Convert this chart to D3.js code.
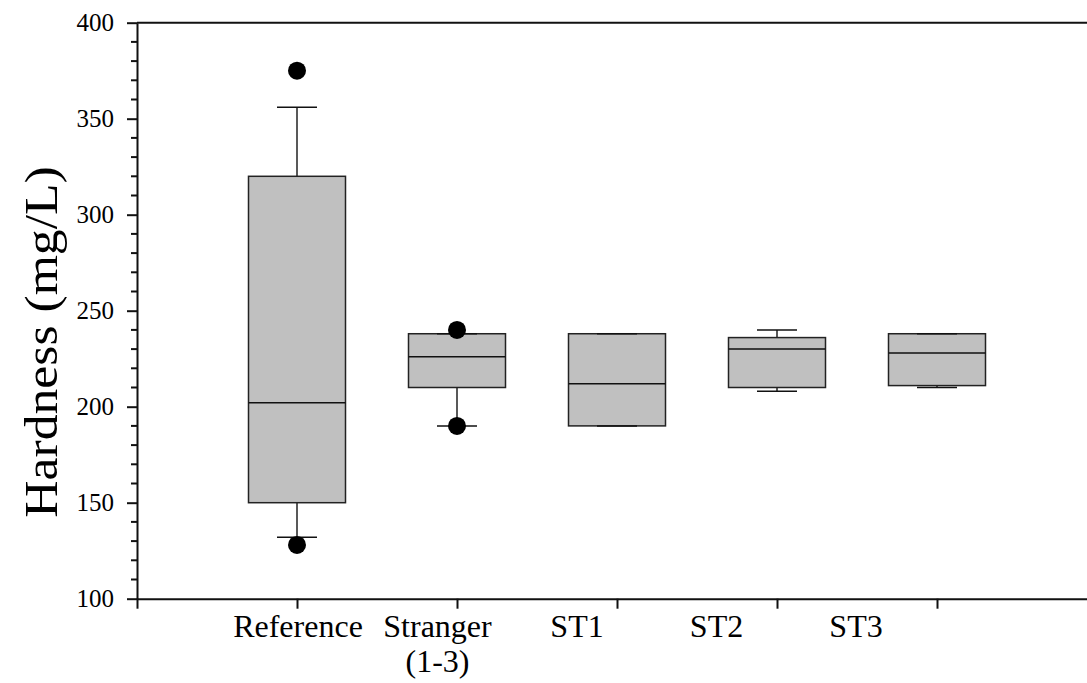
<!DOCTYPE html>
<html>
<head>
<meta charset="utf-8">
<script src="https://cdn.jsdelivr.net/npm/d3@7"></script>
<style>
  html, body { margin: 0; padding: 0; background: #fff; }
  svg { display: block; }
  text { font-family: "Liberation Serif", "Times New Roman", serif; fill: #000; }
</style>
</head>
<body>
<svg id="chart" width="1087" height="683" font-family="Liberation Serif, Times New Roman, serif"></svg>
<script>
// Hardness (mg/L) by site group — box plot summary statistics
const categories = ["Reference", "Stranger\n(1-3)", "ST1", "ST2", "ST3"];
const lowerWhisker = [132, 190, 190, 208, 210];
const q1 = [150, 210, 190, 210, 211];
const median = [202, 226, 212, 230, 228];
const q3 = [320, 238, 238, 236, 238];
const upperWhisker = [356, 238, 238, 240, 238];
const outliers = [[375, 128], [240, 190], [], [], []];
const yTicks = [100, 150, 200, 250, 300, 350, 400];

const svg = d3.select("#chart");
const plotLeft = 137, plotRight = 1097, plotTop = 22.7, plotBottom = 598.7;

// Box positions: one unit per group, groups at 1..5
const x = d3.scaleLinear().domain([0, 6]).range([plotLeft, plotRight]);
// Category label positions along the axis
const xLabel = d3.scalePoint().domain(d3.range(categories.length)).range([298, 856]);
const y = d3.scaleLinear().domain([100, 400]).range([plotBottom, plotTop]);

const boxHalf = 48.5, capHalf = 20;
const stroke = "#222";

// Top frame line
svg.append("line")
  .attr("x1", plotLeft).attr("x2", plotRight)
  .attr("y1", y(400)).attr("y2", y(400))
  .attr("stroke", "#111").attr("stroke-width", 2);

// Y axis with major and minor ticks
const yAxis = d3.axisLeft(y).tickValues(yTicks).tickSize(10).tickPadding(13).tickSizeOuter(0);
const gy = svg.append("g").attr("transform", `translate(${plotLeft},0)`).call(yAxis)
  .attr("font-family", null);
gy.select(".domain").attr("stroke", "#111").attr("stroke-width", 2);
gy.selectAll(".tick line").attr("stroke", "#111").attr("stroke-width", 2);
gy.selectAll(".tick text").style("font-size", "25px").attr("fill", "#000");

const minor = d3.range(100, 401, 10).filter(v => v % 50 !== 0);
svg.append("g").selectAll("line").data(minor).join("line")
  .attr("x1", plotLeft - 6).attr("x2", plotLeft)
  .attr("y1", d => y(d)).attr("y2", d => y(d))
  .attr("stroke", "#111").attr("stroke-width", 2);

// X axis
const xAxis = d3.axisBottom(x).tickValues(d3.range(0, 7)).tickSize(10).tickFormat("").tickSizeOuter(0);
const gx = svg.append("g").attr("transform", `translate(0,${plotBottom})`).call(xAxis);
gx.select(".domain").attr("stroke", "#111").attr("stroke-width", 2);
gx.selectAll(".tick line").attr("stroke", "#111").attr("stroke-width", 2);

// Category labels
const lbl = svg.append("g").selectAll("text").data(categories).join("text")
  .attr("x", (d, i) => xLabel(i))
  .attr("y", 637)
  .attr("text-anchor", "middle")
  .style("font-size", "32px");
lbl.each(function(d, i) {
  const t = d3.select(this);
  d.split("\n").forEach((line, k) => {
    t.append("tspan").attr("x", xLabel(i)).attr("dy", k === 0 ? 0 : 35).text(line);
  });
});

// Y axis title (slightly elongated along its baseline)
svg.append("text")
  .attr("transform", `translate(57,${342}) rotate(-90) scale(1.1,1)`)
  .attr("text-anchor", "middle")
  .style("font-size", "47px")
  .text("Hardness (mg/L)");

// Boxes
const groups = svg.append("g").selectAll("g").data(categories).join("g");
groups.each(function(d, i) {
  const g = d3.select(this);
  const cx = x(i + 1);
  // whiskers
  g.append("line").attr("x1", cx).attr("x2", cx)
    .attr("y1", y(q3[i])).attr("y2", y(upperWhisker[i]))
    .attr("stroke", stroke).attr("stroke-width", 1.5);
  g.append("line").attr("x1", cx).attr("x2", cx)
    .attr("y1", y(q1[i])).attr("y2", y(lowerWhisker[i]))
    .attr("stroke", stroke).attr("stroke-width", 1.5);
  // box
  g.append("rect")
    .attr("x", cx - boxHalf).attr("width", boxHalf * 2)
    .attr("y", y(q3[i])).attr("height", y(q1[i]) - y(q3[i]))
    .attr("fill", "#c0c0c0").attr("stroke", stroke).attr("stroke-width", 1.5);
  // median
  g.append("line").attr("x1", cx - boxHalf).attr("x2", cx + boxHalf)
    .attr("y1", y(median[i])).attr("y2", y(median[i]))
    .attr("stroke", "#111").attr("stroke-width", 1.5);
  // caps
  [upperWhisker[i], lowerWhisker[i]].forEach(v => {
    g.append("line").attr("x1", cx - capHalf).attr("x2", cx + capHalf)
      .attr("y1", y(v)).attr("y2", y(v))
      .attr("stroke", "#111").attr("stroke-width", 1.5);
  });
  // outliers
  g.selectAll("circle").data(outliers[i]).join("circle")
    .attr("cx", cx).attr("cy", v => y(v)).attr("r", 9).attr("fill", "#000");
});
</script>
</body>
</html>
